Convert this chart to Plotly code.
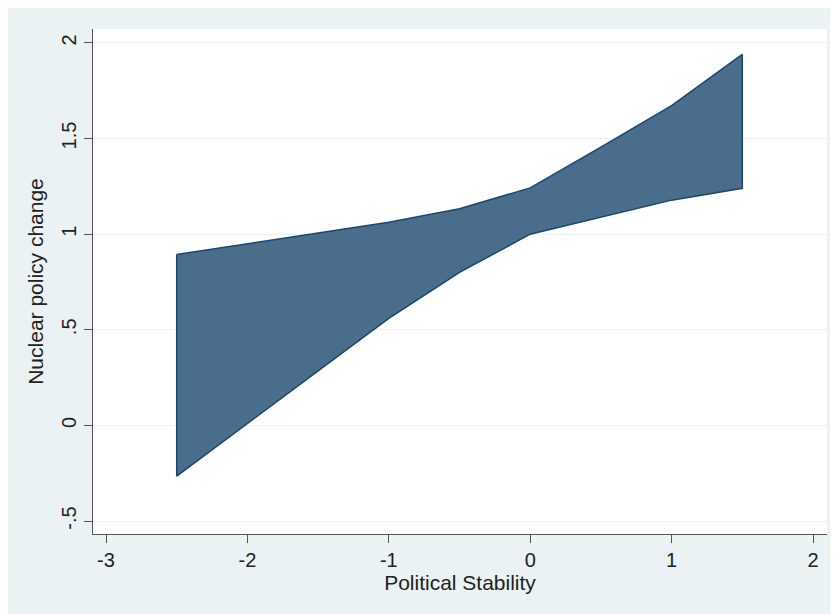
import plotly.graph_objects as go

# Data
stability = [-2.5, -2.0, -1.5, -1.0, -0.5, 0.0, 0.5, 1.0, 1.5]
upper_ci = [0.894, 0.95, 1.005, 1.062, 1.133, 1.242, 1.455, 1.672, 1.94]
lower_ci = [-0.265, 0.01, 0.285, 0.56, 0.80, 1.0, 1.09, 1.178, 1.24]

x_ticks = [-3, -2, -1, 0, 1, 2]
x_ticklabels = ["-3", "-2", "-1", "0", "1", "2"]
y_ticks = [-0.5, 0, 0.5, 1, 1.5, 2]
y_ticklabels = ["-.5", "0", ".5", "1", "1.5", "2"]

poly_x = stability + stability[::-1] + [stability[0]]
poly_y = upper_ci + lower_ci[::-1] + [upper_ci[0]]

fig = go.Figure()
fig.add_trace(go.Scatter(
    x=poly_x, y=poly_y, mode="lines", fill="toself",
    fillcolor="#4a6d8c", line=dict(color="#1a476f", width=1.5),
    showlegend=False, hoverinfo="skip"))

font = "Liberation Sans, Arial, sans-serif"
fig.update_layout(
    width=830, height=606,
    margin=dict(l=85, r=11, t=21, b=80),
    paper_bgcolor="#eaf2f3",
    plot_bgcolor="white",
    font=dict(family=font, color="#222222", size=20),
    xaxis=dict(
        range=[-3.092, 2.099], tickvals=x_ticks, ticktext=x_ticklabels,
        showgrid=False, zeroline=False, showline=True, linecolor="#555555",
        linewidth=1.3, ticks="outside", ticklen=8, tickcolor="#555555",
        tickwidth=1.3, tickfont=dict(size=20),
        title=dict(text="Political Stability", font=dict(size=21), standoff=0)),
    yaxis=dict(
        range=[-0.568, 2.073], tickvals=y_ticks, ticktext=y_ticklabels,
        showgrid=True, gridcolor="#eaf2f3", gridwidth=1.3, zeroline=False,
        showline=True, linecolor="#555555", linewidth=1.3,
        ticks="outside", ticklen=8, tickcolor="#555555", tickwidth=1.3,
        tickangle=-90, tickfont=dict(size=20),
        title=dict(text="Nuclear policy change", font=dict(size=21), standoff=8)),
)

fig.write_html("out.html")
